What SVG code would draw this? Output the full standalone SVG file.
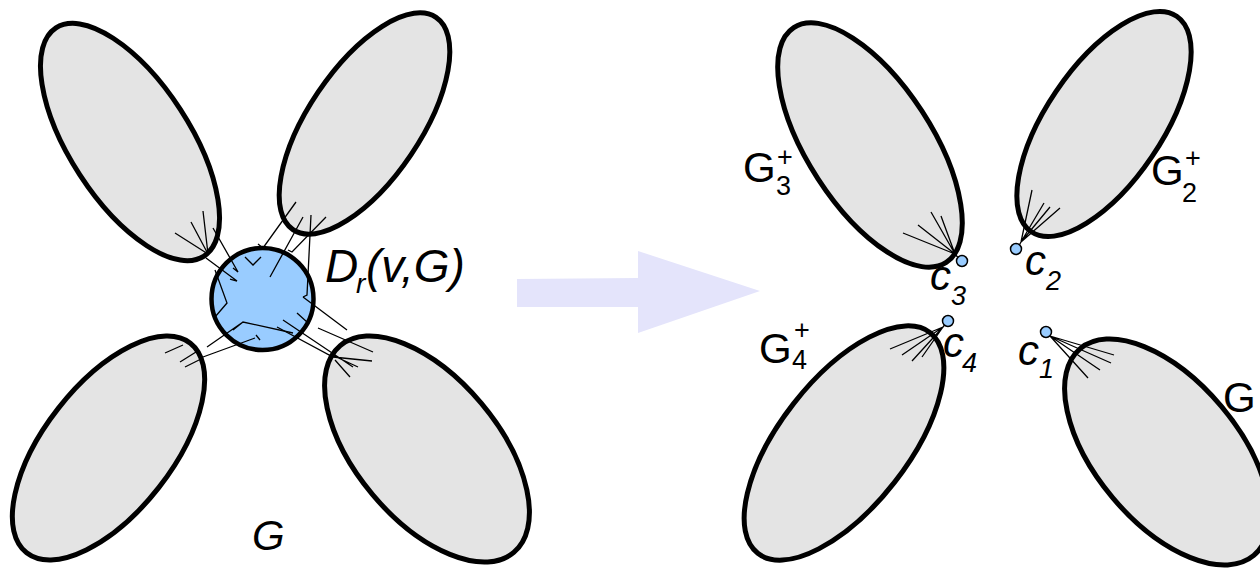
<svg xmlns="http://www.w3.org/2000/svg" width="1260" height="570" viewBox="0 0 1260 570">
<style>
.lobe{fill:#e4e4e4;stroke:#000;stroke-width:5}
.disk{fill:#99ccff;stroke:#000;stroke-width:4.5}
.e{fill:none;stroke:#000;stroke-width:1.3;stroke-linejoin:miter}
.dot{fill:#99ccff;stroke:#000;stroke-width:1.5}
.t{font-family:"Liberation Sans",Arial,sans-serif;fill:#000}
.it{font-style:italic}
.big{font-size:42px}
.lg{font-size:46px}
.sm{font-size:27px}
.sr{font-size:28px}
</style>
<rect width="1260" height="570" fill="#fff"/>
<g id="arrow"><polygon points="517,279 638,278 638,251 760,291 638,333 638,307 517,307" fill="#e4e4fb"/></g>
<g id="G-left">
<g id="lobe-TL"><ellipse class="lobe" cx="130" cy="142" rx="136" ry="60" transform="rotate(57 130 142)"/></g>
<g id="lobe-TR"><ellipse class="lobe" cx="364.5" cy="123.5" rx="128" ry="56" transform="rotate(-56 364.5 123.5)"/></g>
<g id="lobe-BL"><ellipse class="lobe" cx="108.5" cy="448" rx="133" ry="64" transform="rotate(-52 108.5 448)"/></g>
<g id="lobe-BR"><ellipse class="lobe" cx="427" cy="449" rx="135" ry="71" transform="rotate(50 427 449)"/></g>
<g id="disk"><circle class="disk" cx="262.5" cy="299" r="51"/></g>
</g>
<g id="G-right">
<g id="lobe-G3"><ellipse class="lobe" cx="870" cy="145" rx="140" ry="62" transform="rotate(57 870 145)"/></g>
<g id="lobe-G2"><ellipse class="lobe" cx="1104" cy="124" rx="130" ry="58" transform="rotate(-56 1104 124)"/></g>
<g id="lobe-G4"><ellipse class="lobe" cx="844" cy="443" rx="140" ry="64" transform="rotate(-52 844 443)"/></g>
<g id="lobe-G1"><ellipse class="lobe" cx="1167" cy="452" rx="135" ry="71" transform="rotate(50 1167 452)"/></g>
</g>
<g id="connectors">
<path class="e" d="M208,254 L175,233 M208,254 L191,222 M208,254 L203,211"/>
<path class="e" d="M213,228 L238,272 L233,268 M206,258 L237,281 L230,279"/>
<path class="e" d="M245,257 L253,265 L261,257"/>
<path class="e" d="M296,202 L263,248 L258,244 M303,217 L270,277 M326,217 L292,252 L288,250 M311,215 L307,295 L303,297"/>
<path class="e" d="M303,297 L347,330 M277,327 L333,357 L372,361 M283,320 L353,367 M297,313 L307,322 M332,355 L358,367 M335,360 L350,377 M318,328 L373,352"/>
<path class="e" d="M215,270 L227,303 L215,317 M243,322 L207,347 M233,330 L243,322 L293,333 M255,338 L203,357 M165,353 L183,345 M180,362 L196,352 M185,367 L203,358 M256,335 L260,340"/>
<path class="e" d="M955,254 L903,233 M955,254 L918,225 M955,254 L931,212 M955,254 L941,216 M955,254 L961,261"/>
<path class="e" d="M1021,242 L1032,190 M1021,242 L1044,203 M1021,242 L1050,207 M1021,242 L1060,208 M1021,242 L1017,249"/>
<path class="e" d="M943,327 L890,349 M943,327 L902,355 M943,327 L912,361 M943,327 L922,357 M943,327 L948,321"/>
<path class="e" d="M1050,336 L1114,355 M1050,336 L1111,363 M1050,336 L1100,370 M1050,336 L1088,378 M1050,336 L1046,332"/>
</g>
<g id="cut-vertices">
<g id="c3"><circle class="dot" cx="962" cy="261" r="5.5"/></g>
<g id="c2"><circle class="dot" cx="1016" cy="249" r="5.5"/></g>
<g id="c4"><circle class="dot" cx="948" cy="321" r="5.5"/></g>
<g id="c1"><circle class="dot" cx="1046" cy="332" r="5.5"/></g>
</g>
<g id="labels">
<text class="t it lg" x="325" y="282">D<tspan class="sr" x="356" y="293">r</tspan><tspan x="366" y="282">(v,G)</tspan></text>
<text class="t it big" x="252" y="550">G</text>
<text class="t big" x="743" y="182">G<tspan class="sm" x="777" y="166">+</tspan><tspan class="sm" x="776" y="195">3</tspan></text>
<text class="t big" x="1151" y="185">G<tspan class="sm" x="1185" y="167">+</tspan><tspan class="sm" x="1182" y="202">2</tspan></text>
<text class="t big" x="759" y="363">G<tspan class="sm" x="794" y="339">+</tspan><tspan class="sm" x="792" y="369">4</tspan></text>
<text class="t big" x="1223" y="412">G</text>
<text class="t it big" x="930" y="290">c<tspan class="sm" x="951" y="305">3</tspan></text>
<text class="t it big" x="1025" y="275">c<tspan class="sm" x="1046" y="290">2</tspan></text>
<text class="t it big" x="943" y="357">c<tspan class="sm" x="962" y="372">4</tspan></text>
<text class="t it big" x="1018" y="365">c<tspan class="sm" x="1039" y="378">1</tspan></text>
</g>
</svg>
